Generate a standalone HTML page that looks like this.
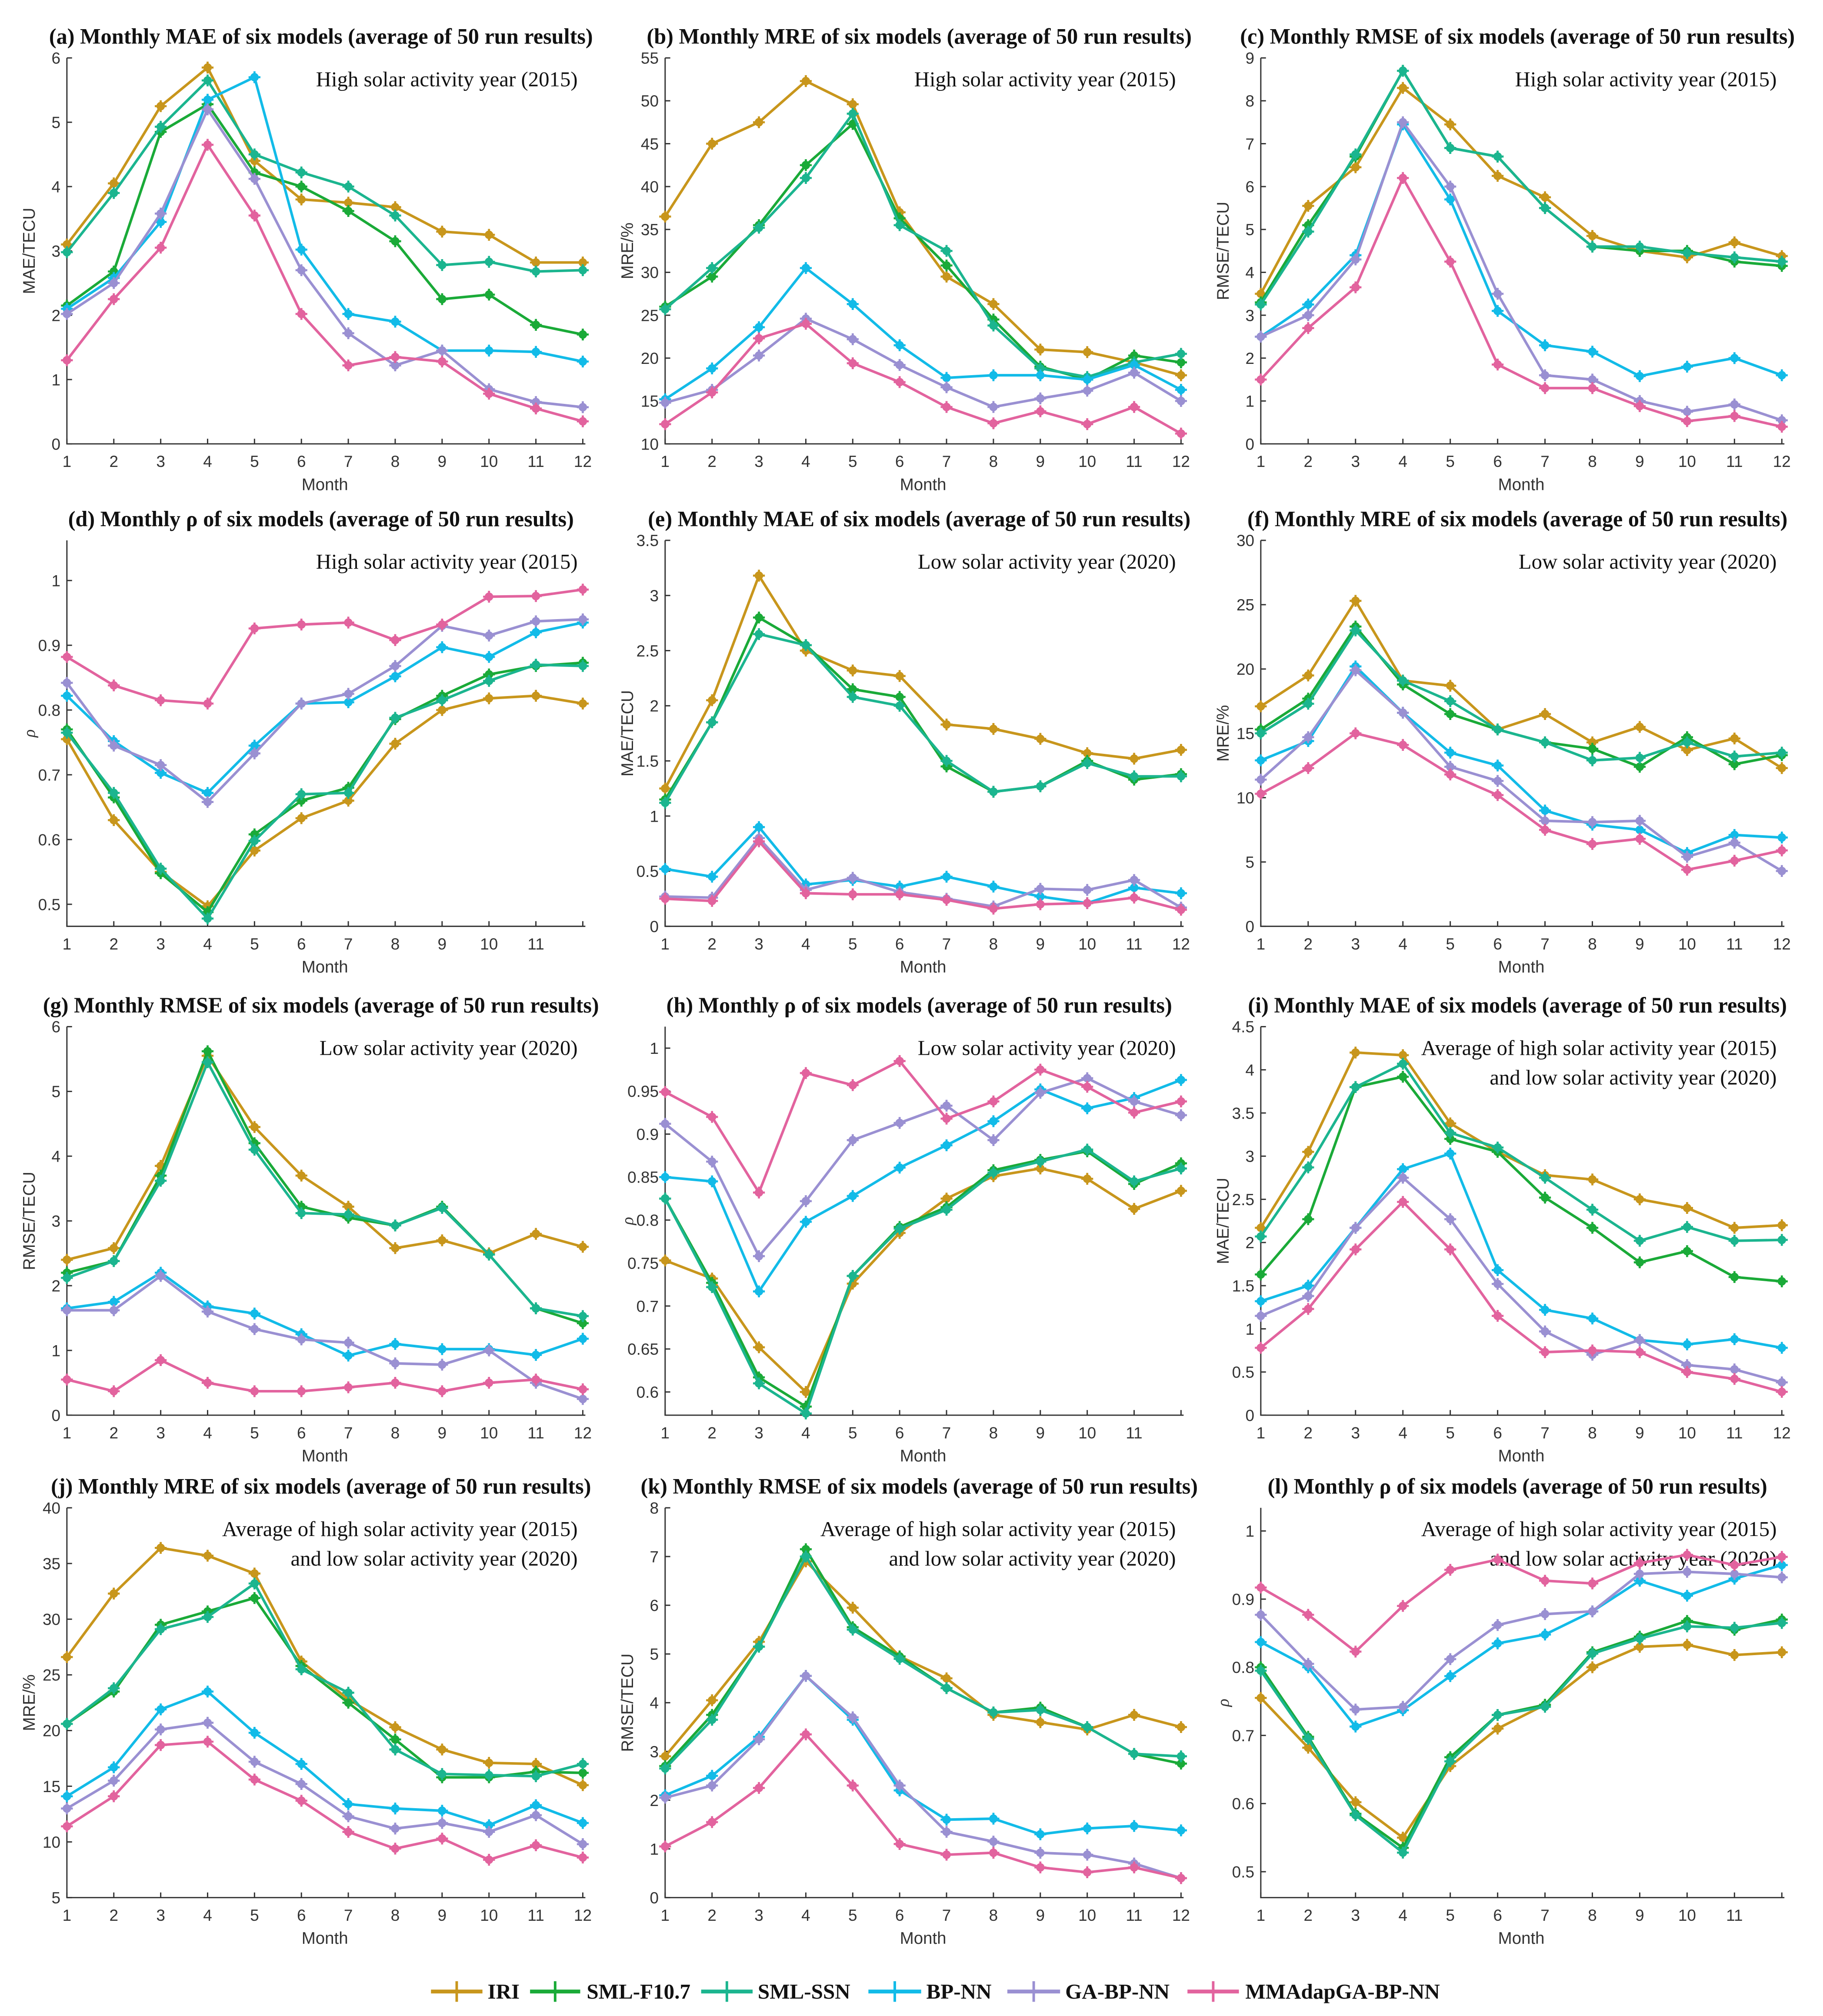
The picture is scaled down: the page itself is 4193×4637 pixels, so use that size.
<!DOCTYPE html>
<html><head><meta charset="utf-8"><style>
html,body{margin:0;padding:0;background:#fff;}
svg{display:block;}
</style></head><body>
<svg id="fig" xmlns="http://www.w3.org/2000/svg" width="4193" height="4637" viewBox="0 0 1417 1567"></svg>
<script>
const months = [1,2,3,4,5,6,7,8,9,10,11,12];
const seriesNames = ["IRI","SML-F10.7","SML-SSN","BP-NN","GA-BP-NN","MMAdapGA-BP-NN"];
const seriesColors = ["#c8961c","#1aaa38","#1bb58f","#12bbe8","#9a90d2","#e2639e"];
// (a) MAE 2015
const aIRI=[3.1,4.05,5.25,5.85,4.4,3.8,3.75,3.68,3.3,3.25,2.82,2.82];
const aF107=[2.15,2.68,4.85,5.28,4.22,4.0,3.62,3.15,2.25,2.32,1.85,1.7];
const aSSN=[2.98,3.9,4.93,5.65,4.5,4.22,4.0,3.55,2.78,2.83,2.68,2.7];
const aBP=[2.1,2.58,3.45,5.35,5.7,3.02,2.02,1.9,1.45,1.45,1.43,1.28];
const aGA=[2.02,2.5,3.58,5.2,4.12,2.7,1.72,1.22,1.45,0.85,0.65,0.57];
const aMM=[1.3,2.25,3.05,4.65,3.55,2.02,1.22,1.35,1.28,0.78,0.55,0.35];
// (b) MRE 2015
const bIRI=[36.5,45,47.5,52.3,49.6,37,29.5,26.3,21,20.7,19.5,18];
const bF107=[26,29.5,35.5,42.5,47.3,36.3,30.8,24.5,19,17.5,20.3,19.5];
const bSSN=[25.7,30.5,35.2,41,48.5,35.5,32.5,23.8,18.8,17.8,19.5,20.5];
const bBP=[15.2,18.8,23.6,30.5,26.3,21.5,17.7,18,18,17.5,19.2,16.3];
const bGA=[14.8,16.3,20.3,24.6,22.2,19.2,16.6,14.3,15.3,16.2,18.3,15];
const bMM=[12.3,16,22.3,24,19.4,17.2,14.3,12.4,13.8,12.3,14.3,11.2];
// (c) RMSE 2015
const cIRI=[3.5,5.55,6.45,8.3,7.45,6.25,5.75,4.85,4.5,4.35,4.7,4.38];
const cF107=[3.3,5.1,6.7,8.7,6.9,6.7,5.5,4.6,4.5,4.5,4.25,4.15];
const cSSN=[3.25,4.95,6.75,8.7,6.9,6.7,5.5,4.6,4.6,4.45,4.35,4.25];
const cBP=[2.5,3.25,4.4,7.45,5.7,3.1,2.3,2.15,1.58,1.8,2.0,1.6];
const cGA=[2.5,3.0,4.3,7.5,6.0,3.5,1.6,1.5,1.0,0.75,0.92,0.55];
const cMM=[1.5,2.7,3.65,6.2,4.25,1.85,1.3,1.3,0.88,0.53,0.65,0.4];
// (d) rho 2015
const dIRI=[0.755,0.63,0.55,0.497,0.583,0.633,0.66,0.748,0.80,0.818,0.822,0.81];
const dF107=[0.77,0.665,0.548,0.488,0.608,0.66,0.68,0.786,0.822,0.855,0.868,0.873];
const dSSN=[0.765,0.672,0.555,0.478,0.598,0.67,0.672,0.788,0.815,0.845,0.87,0.868];
const dBP=[0.822,0.752,0.703,0.672,0.745,0.81,0.812,0.852,0.897,0.882,0.92,0.935];
const dGA=[0.842,0.745,0.715,0.658,0.733,0.81,0.825,0.868,0.93,0.915,0.937,0.94];
const dMM=[0.882,0.838,0.815,0.81,0.926,0.932,0.935,0.908,0.932,0.975,0.976,0.986];
// (e) MAE 2020
const eIRI=[1.25,2.05,3.18,2.5,2.32,2.27,1.83,1.79,1.7,1.57,1.52,1.6];
const eF107=[1.15,1.85,2.8,2.55,2.15,2.08,1.45,1.22,1.27,1.5,1.33,1.38];
const eSSN=[1.12,1.85,2.65,2.55,2.08,2.0,1.5,1.22,1.27,1.48,1.36,1.36];
const eBP=[0.52,0.45,0.9,0.38,0.42,0.36,0.45,0.36,0.27,0.21,0.35,0.3];
const eGA=[0.27,0.26,0.8,0.33,0.44,0.31,0.25,0.18,0.34,0.33,0.42,0.17];
const eMM=[0.25,0.23,0.77,0.3,0.29,0.29,0.24,0.16,0.2,0.21,0.26,0.15];
// (f) MRE 2020
const fIRI=[17.1,19.5,25.3,19.1,18.7,15.3,16.5,14.3,15.5,13.7,14.6,12.3];
const fF107=[15.3,17.7,23.3,18.8,16.5,15.3,14.3,13.8,12.4,14.7,12.6,13.3];
const fSSN=[15.0,17.3,23.0,19.1,17.5,15.3,14.3,12.9,13.1,14.3,13.2,13.5];
const fBP=[12.9,14.4,20.2,16.6,13.5,12.5,9.0,7.9,7.5,5.7,7.1,6.9];
const fGA=[11.4,14.7,19.9,16.6,12.4,11.3,8.2,8.1,8.2,5.4,6.5,4.3];
const fMM=[10.3,12.3,15.0,14.1,11.8,10.2,7.5,6.4,6.8,4.4,5.1,5.9];
// (g) RMSE 2020
const gIRI=[2.4,2.58,3.85,5.55,4.45,3.7,3.22,2.58,2.7,2.5,2.8,2.6];
const gF107=[2.2,2.38,3.7,5.62,4.2,3.22,3.05,2.93,3.22,2.48,1.65,1.42];
const gSSN=[2.12,2.38,3.62,5.45,4.1,3.12,3.1,2.93,3.2,2.48,1.65,1.53];
const gBP=[1.65,1.75,2.2,1.68,1.57,1.25,0.92,1.1,1.02,1.02,0.93,1.18];
const gGA=[1.62,1.62,2.15,1.6,1.33,1.17,1.12,0.8,0.78,1.0,0.5,0.25];
const gMM=[0.55,0.37,0.85,0.5,0.37,0.37,0.43,0.5,0.37,0.5,0.55,0.4];
// (h) rho 2020
const hIRI=[0.753,0.732,0.652,0.6,0.726,0.785,0.825,0.851,0.86,0.848,0.813,0.834];
const hF107=[0.825,0.727,0.617,0.583,0.735,0.792,0.815,0.858,0.87,0.88,0.842,0.866];
const hSSN=[0.825,0.722,0.61,0.575,0.735,0.79,0.812,0.855,0.868,0.882,0.845,0.86];
const hBP=[0.85,0.845,0.717,0.798,0.828,0.861,0.887,0.915,0.952,0.93,0.942,0.963];
const hGA=[0.912,0.868,0.758,0.822,0.893,0.913,0.933,0.893,0.948,0.965,0.938,0.922];
const hMM=[0.949,0.92,0.832,0.971,0.957,0.985,0.918,0.938,0.975,0.955,0.925,0.938];
// (i) MAE avg
const iIRI=[2.17,3.05,4.2,4.17,3.38,3.05,2.78,2.73,2.5,2.4,2.17,2.2];
const iF107=[1.63,2.27,3.8,3.92,3.2,3.05,2.52,2.17,1.77,1.9,1.6,1.55];
const iSSN=[2.07,2.87,3.8,4.07,3.27,3.1,2.75,2.38,2.02,2.18,2.02,2.03];
const iBP=[1.32,1.5,2.17,2.85,3.03,1.68,1.22,1.12,0.87,0.82,0.88,0.78];
const iGA=[1.15,1.38,2.17,2.75,2.27,1.52,0.97,0.7,0.87,0.58,0.53,0.38];
const iMM=[0.78,1.23,1.92,2.47,1.92,1.15,0.73,0.75,0.73,0.5,0.42,0.27];
// (j) MRE avg
const jIRI=[26.6,32.3,36.4,35.7,34.1,26.2,22.8,20.3,18.3,17.1,17,15.1];
const jF107=[20.6,23.5,29.5,30.7,31.9,25.8,22.5,19.2,15.8,15.8,16.3,16.2];
const jSSN=[20.6,23.8,29.1,30.2,33.2,25.5,23.4,18.3,16.1,16,15.9,17];
const jBP=[14.1,16.7,21.9,23.5,19.8,17,13.4,13,12.8,11.5,13.3,11.7];
const jGA=[13,15.5,20.1,20.7,17.2,15.2,12.3,11.2,11.7,10.9,12.4,9.8];
const jMM=[11.4,14.1,18.7,19,15.6,13.7,10.9,9.4,10.3,8.4,9.7,8.6];
// (k) RMSE avg
const kIRI=[2.9,4.05,5.25,6.9,5.95,4.95,4.5,3.75,3.6,3.45,3.75,3.5];
const kF107=[2.7,3.75,5.15,7.15,5.55,4.95,4.3,3.8,3.9,3.5,2.95,2.75];
const kSSN=[2.65,3.65,5.15,7.0,5.5,4.9,4.3,3.8,3.85,3.5,2.95,2.9];
const kBP=[2.1,2.5,3.3,4.55,3.65,2.2,1.6,1.62,1.3,1.42,1.47,1.38];
const kGA=[2.05,2.3,3.25,4.55,3.7,2.3,1.35,1.15,0.92,0.88,0.7,0.4];
const kMM=[1.05,1.55,2.25,3.35,2.3,1.1,0.88,0.92,0.62,0.52,0.62,0.4];
// (l) rho avg
const lIRI=[0.755,0.682,0.602,0.55,0.655,0.71,0.745,0.8,0.83,0.833,0.818,0.822];
const lF107=[0.8,0.698,0.585,0.535,0.668,0.73,0.745,0.822,0.845,0.868,0.855,0.87];
const lSSN=[0.795,0.695,0.583,0.528,0.662,0.73,0.742,0.82,0.842,0.86,0.858,0.865];
const lBP=[0.837,0.8,0.713,0.737,0.787,0.835,0.848,0.882,0.927,0.905,0.93,0.95];
const lGA=[0.877,0.805,0.738,0.742,0.812,0.862,0.878,0.882,0.937,0.94,0.937,0.932];
const lMM=[0.917,0.877,0.823,0.89,0.943,0.958,0.927,0.923,0.953,0.965,0.95,0.962];
// tick labels
const ticksA=[0,1,2,3,4,5,6];
const ticksB=[10,15,20,25,30,35,40,45,50,55];
const ticksC=[0,1,2,3,4,5,6,7,8,9];
const ticksRho=[0.5,0.6,0.7,0.8,0.9,1];
const ticksE=[0,0.5,1,1.5,2,2.5,3,3.5];
const ticksF=[0,5,10,15,20,25,30];
const ticksH=[0.6,0.65,0.7,0.75,0.8,0.85,0.9,0.95,1];
const ticksI=[0,0.5,1,1.5,2,2.5,3,3.5,4,4.5];
const ticksJ=[5,10,15,20,25,30,35,40];
const ticksK=[0,1,2,3,4,5,6,7,8];

const NS="http://www.w3.org/2000/svg";
const svg=document.getElementById('fig');
function mk(tag,attrs,parent){const e=document.createElementNS(NS,tag);for(const k in attrs)e.setAttribute(k,attrs[k]);(parent||svg).appendChild(e);return e;}

const colX=[[52,453],[517,918],[980,1385]];
const rowY=[[45,345],[420,720],[798,1100],[1172,1475]];
const hi="High solar activity year (2015)", lo="Low solar activity year (2020)";
const av=["Average of high solar activity year (2015)","and low solar activity year (2020)"];
const panels=[
 {id:"a",t:"(a) Monthly MAE of six models (average of 50 run results)",yl:"MAE/TECU",r:0,c:0,ymin:0,ymax:6,ticks:ticksA,d:[aIRI,aF107,aSSN,aBP,aGA,aMM],ann:[hi],last:true},
 {id:"b",t:"(b) Monthly MRE of six models (average of 50 run results)",yl:"MRE/%",r:0,c:1,ymin:10,ymax:55,ticks:ticksB,d:[bIRI,bF107,bSSN,bBP,bGA,bMM],ann:[hi],last:true},
 {id:"c",t:"(c) Monthly RMSE of six models (average of 50 run results)",yl:"RMSE/TECU",r:0,c:2,ymin:0,ymax:9,ticks:ticksC,d:[cIRI,cF107,cSSN,cBP,cGA,cMM],ann:[hi],last:true},
 {id:"d",t:"(d) Monthly ρ of six models (average of 50 run results)",yl:"ρ",r:1,c:0,ymin:0.466,ymax:1.062,ticks:ticksRho,d:[dIRI,dF107,dSSN,dBP,dGA,dMM],ann:[hi],last:false},
 {id:"e",t:"(e) Monthly MAE of six models (average of 50 run results)",yl:"MAE/TECU",r:1,c:1,ymin:0,ymax:3.5,ticks:ticksE,d:[eIRI,eF107,eSSN,eBP,eGA,eMM],ann:[lo],last:true},
 {id:"f",t:"(f) Monthly MRE of six models (average of 50 run results)",yl:"MRE/%",r:1,c:2,ymin:0,ymax:30,ticks:ticksF,d:[fIRI,fF107,fSSN,fBP,fGA,fMM],ann:[lo],last:true},
 {id:"g",t:"(g) Monthly RMSE of six models (average of 50 run results)",yl:"RMSE/TECU",r:2,c:0,ymin:0,ymax:6,ticks:ticksA,d:[gIRI,gF107,gSSN,gBP,gGA,gMM],ann:[lo],last:true},
 {id:"h",t:"(h) Monthly ρ of six models (average of 50 run results)",yl:"ρ",r:2,c:1,ymin:0.573,ymax:1.025,ticks:ticksH,d:[hIRI,hF107,hSSN,hBP,hGA,hMM],ann:[lo],last:false},
 {id:"i",t:"(i) Monthly MAE of six models (average of 50 run results)",yl:"MAE/TECU",r:2,c:2,ymin:0,ymax:4.5,ticks:ticksI,d:[iIRI,iF107,iSSN,iBP,iGA,iMM],ann:av,last:true},
 {id:"j",t:"(j) Monthly MRE of six models (average of 50 run results)",yl:"MRE/%",r:3,c:0,ymin:5,ymax:40,ticks:ticksJ,d:[jIRI,jF107,jSSN,jBP,jGA,jMM],ann:av,last:true},
 {id:"k",t:"(k) Monthly RMSE of six models (average of 50 run results)",yl:"RMSE/TECU",r:3,c:1,ymin:0,ymax:8,ticks:ticksK,d:[kIRI,kF107,kSSN,kBP,kGA,kMM],ann:av,last:true},
 {id:"l",t:"(l) Monthly ρ of six models (average of 50 run results)",yl:"ρ",r:3,c:2,ymin:0.462,ymax:1.034,ticks:ticksRho,d:[lIRI,lF107,lSSN,lBP,lGA,lMM],ann:av,last:false}
];
const SERIF='"Liberation Serif", serif', SANS='"Liberation Sans", sans-serif';

function marker(g,x,y,col){
  mk('circle',{cx:x,cy:y,r:3.3,fill:col},g);
  mk('path',{d:`M${x-4.6},${y}H${x+4.6}M${x},${y-4.6}V${y+4.6}`,stroke:col,'stroke-width':1.6},g);
}

panels.forEach(p=>{
  const [x0,x1]=colX[p.c], [yt,yb]=rowY[p.r];
  const sx=m=>x0+(m-1)*(x1-x0)/11;
  const sy=v=>yb-(v-p.ymin)/(p.ymax-p.ymin)*(yb-yt);
  const g=mk('g',{});
  
  
  const t=mk('text',{x:(x0+x1)/2-3,y:yt-11,'text-anchor':'middle','font-family':SERIF,'font-weight':'bold','font-size':17,fill:'#111'},g);
  t.textContent=p.t;
  
  
  const ax=mk('path',{d:`M${x0},${yt}V${yb}H${x1+2}`,stroke:'#333',fill:'none','stroke-width':1},g);
  
  
  p.ticks.forEach(v=>{
    const y=sy(v);
    mk('line',{x1:x0,x2:x0+4,y1:y,y2:y,stroke:'#333','stroke-width':1},g);
    const tl=mk('text',{x:x0-5,y:y+4.5,'text-anchor':'end','font-family':SANS,'font-size':12.5,fill:'#333'},g);
    tl.textContent=String(+v.toFixed(2));
    
    
  });
  months.forEach(m=>{
    const x=sx(m);
    mk('line',{x1:x,x2:x,y1:yb,y2:yb-4,stroke:'#333','stroke-width':1},g);
    if(m<12||p.last){
      const tl=mk('text',{x:x,y:yb+18,'text-anchor':'middle','font-family':SANS,'font-size':12.5,fill:'#333'},g);
      tl.textContent=String(m);
      
      
    }
  });
  const xl=mk('text',{x:(x0+x1)/2,y:yb+36,'text-anchor':'middle','font-family':SANS,'font-size':13,fill:'#333'},g);
  xl.textContent='Month';
  
  
  const yx=x0-25, yy=(yt+yb)/2;
  const yl=mk('text',{x:yx,y:yy,'text-anchor':'middle','font-family':p.yl==='ρ'?SERIF:SANS,'font-style':p.yl==='ρ'?'italic':'normal','font-size':13,fill:'#333',transform:`rotate(-90 ${yx} ${yy})`},g);
  yl.textContent=p.yl;
  
  
  p.ann.forEach((s,i)=>{
    const a=mk('text',{x:x1-4,y:yt+22+i*23,'text-anchor':'end','font-family':SERIF,'font-size':16.5,fill:'#111'},g);
    a.textContent=s;
    
    
  });
  p.d.forEach((vals,si)=>{
    const col=seriesColors[si];
    const sg=mk('g',{},g);
    
    
    const pts=vals.map((v,i)=>sx(months[i])+','+sy(v)).join(' ');
    mk('polyline',{points:pts,fill:'none',stroke:col,'stroke-width':2,'stroke-linejoin':'round'},sg);
    vals.forEach((v,i)=>marker(sg,sx(months[i]),sy(v),col));
  });
});

const legX=[[335,375,379],[412,451,456],[545,585,589],[675,716,720],[783,824,828],[923,963,968]];
const lg=mk('g',{});


seriesNames.forEach((n,i)=>{
  const e=mk('g',{},lg);
  
  
  const [a,b,tx]=legX[i], y=1548;
  mk('line',{x1:a,x2:b,y1:y,y2:y,stroke:seriesColors[i],'stroke-width':3},e);
  mk('path',{d:`M${(a+b)/2},${y-8}V${y+8}`,stroke:seriesColors[i],'stroke-width':2},e);
  const t=mk('text',{x:tx,y:y+5.5,'font-family':SERIF,'font-weight':'bold','font-size':16.6,fill:'#111'},e);
  t.textContent=n;
});
</script>
</body></html>
